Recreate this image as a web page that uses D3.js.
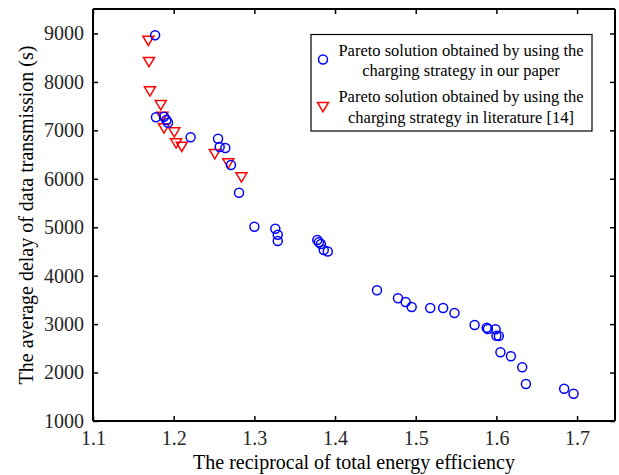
<!DOCTYPE html>
<html><head><meta charset="utf-8">
<script src="https://cdn.jsdelivr.net/npm/d3@7"></script>
<style>body{margin:0;background:#fff;} svg{display:block;}</style>
</head><body>
<script>
// Data
const oursX = [1.177,1.178,1.188,1.191,1.193,1.221,1.255,1.257,1.264,1.271,1.281,1.300,1.326,1.329,1.329,1.378,1.380,1.3825,1.386,1.391,1.452,1.478,1.4875,1.495,1.518,1.534,1.548,1.573,1.588,1.5895,1.599,1.600,1.603,1.605,1.618,1.632,1.6366,1.684,1.6956];
const oursY = [8963,7270,7282,7214,7158,6857,6828,6656,6636,6285,5713,5011,4970,4846,4716,4737,4690,4654,4530,4500,3698,3533,3457,3353,3333,3333,3230,2982,2926,2899,2893,2761,2755,2418,2336,2109,1764,1667,1564];
const litX = [1.1686,1.1694,1.1706,1.184,1.186,1.188,1.2008,1.203,1.210,1.251,1.2677,1.284];
const litY = [8851,8411,7806,7523,7282,7043,6960,6733,6663,6512,6320,6031];
const xTicks = [1.1,1.2,1.3,1.4,1.5,1.6,1.7];
const yTicks = [1000,2000,3000,4000,5000,6000,7000,8000,9000];
const legendLabels = [["Pareto solution obtained by using the","charging strategy in our paper"],["Pareto solution obtained by using the","charging strategy in literature [14]"]];
const xTitle = "The reciprocal of total energy efficiency";
const yTitle = "The average delay of data transmission (s)";

const W=619,H=475;
const L=93,R=615,T=9,B=421;
const svg=d3.select("body").append("svg").attr("width",W).attr("height",H);
const x=d3.scaleLinear().domain([1.1,1.747]).range([L,R]);
const y=d3.scaleLinear().domain([1000,9505]).range([B,T]);
const font="Liberation Serif";

// axes
const tickLen=5;
const gx=svg.append("g").attr("transform",`translate(0,${B})`)
  .call(d3.axisBottom(x).tickValues(xTicks).tickSize(-tickLen).tickPadding(10).tickFormat(d3.format(".1f")));
const gy=svg.append("g").attr("transform",`translate(${L},0)`)
  .call(d3.axisLeft(y).tickValues(yTicks).tickSize(-tickLen).tickPadding(9).tickFormat(d=>d));
const gxt=svg.append("g").attr("transform",`translate(0,${T})`)
  .call(d3.axisTop(x).tickValues(xTicks).tickSize(-tickLen).tickFormat(""));
const gyr=svg.append("g").attr("transform",`translate(${R},0)`)
  .call(d3.axisRight(y).tickValues(yTicks).tickSize(-tickLen).tickFormat(""));
[gx,gy,gxt,gyr].forEach(g=>{
  g.attr("font-family",null).attr("font-size",null);
  g.select(".domain").attr("stroke","#000").attr("stroke-width",2);
  g.selectAll(".tick line").attr("stroke","#000").attr("stroke-width",1.5);
  g.selectAll("text").style("font-family",font).style("font-size","20px").attr("fill","#262626");
});
gx.selectAll("path.domain").attr("d",`M${L},0H${R}`);
gxt.selectAll("path.domain").attr("d",`M${L},0H${R}`);
gy.selectAll("path.domain").attr("d",`M0,${B}V${T}`);
gyr.selectAll("path.domain").attr("d",`M0,${B}V${T}`);

// titles
svg.append("text").attr("x",(L+R)/2).attr("y",469).attr("text-anchor","middle")
  .style("font-family",font).style("font-size","20px").attr("fill","#000").text(xTitle);
svg.append("text").attr("transform",`translate(33,${(T+B)/2}) rotate(-90)`).attr("text-anchor","middle")
  .style("font-family",font).style("font-size","20px").attr("fill","#000").text(yTitle);

// points
const tri="M-5.5,-4.5L5.5,-4.5L0,4.8Z";
svg.append("g").selectAll("path").data(litX.map((v,i)=>[v,litY[i]])).join("path")
  .attr("d",tri).attr("transform",d=>`translate(${x(d[0])},${y(d[1])})`)
  .attr("fill","none").attr("stroke","#f00").attr("stroke-width",1.5);
svg.append("g").selectAll("circle").data(oursX.map((v,i)=>[v,oursY[i]])).join("circle")
  .attr("cx",d=>x(d[0])).attr("cy",d=>y(d[1])).attr("r",4.5)
  .attr("fill","none").attr("stroke","#00f").attr("stroke-width",1.5);

// legend
const lg=svg.append("g");
lg.append("rect").attr("x",311).attr("y",34.5).attr("width",281).attr("height",96.5)
  .attr("fill","#fff").attr("stroke","#000").attr("stroke-width",1.2);
lg.append("circle").attr("cx",323).attr("cy",59.5).attr("r",4.5).attr("fill","none").attr("stroke","#00f").attr("stroke-width",1.5);
lg.append("path").attr("d",tri).attr("transform","translate(323,107)").attr("fill","none").attr("stroke","#f00").attr("stroke-width",1.5);
const lineYs=[[55.5,76],[102,122.5]];
legendLabels.forEach((lines,i)=>lines.forEach((t,j)=>{
  lg.append("text").attr("x",461).attr("y",lineYs[i][j]).attr("text-anchor","middle")
    .style("font-family",font).style("font-size","16.5px").attr("fill","#000").text(t);
}));
</script>
</body></html>
